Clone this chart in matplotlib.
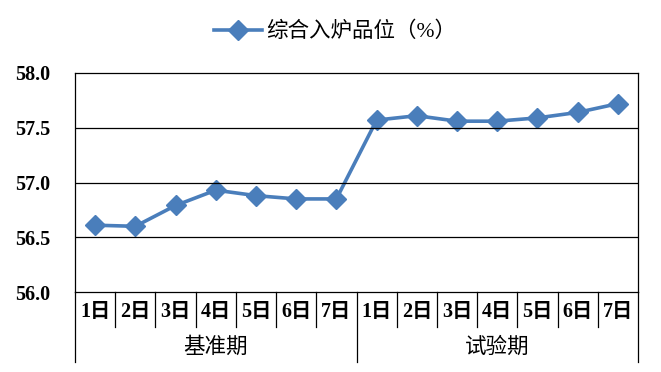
import numpy as np
import matplotlib.pyplot as plt
from matplotlib.transforms import blended_transform_factory

# Data
days = ['1日', '2日', '3日', '4日', '5日', '6日', '7日']
groups = ['基准期', '试验期']
values = [56.61, 56.60, 56.79, 56.93, 56.88, 56.85, 56.85,
          57.57, 57.61, 57.56, 57.56, 57.59, 57.64, 57.72]
yticks = [56.0, 56.5, 57.0, 57.5, 58.0]
series_name = '综合入炉品位（%）'

fonts = ['Liberation Serif', 'Noto Sans CJK SC', 'DejaVu Sans']
plt.rcParams['font.family'] = fonts

fig = plt.figure(figsize=(6.61, 3.72), dpi=100)
ax = fig.add_axes([75 / 661, 1 - 292 / 372, 563 / 661, 219 / 372])

x = np.arange(len(values))
line, = ax.plot(x, values, color='#4a7ebb', lw=2.6, marker='D', markersize=10,
                label=series_name)

ax.set_xlim(-0.5, len(values) - 0.5)
ax.set_ylim(56.0, 58.0)
ax.set_yticks(yticks)
ax.set_yticklabels([f'{v:.1f}' for v in yticks], fontsize=14.5, fontweight='bold')
ax.tick_params(axis='y', length=0, pad=18)
ax.set_xticks([])
for v in yticks[1:-1]:
    ax.axhline(v, color='black', lw=0.9)
for s in ax.spines.values():
    s.set_linewidth(0.9)

# two-level category axis
tr = blended_transform_factory(ax.transData, ax.transAxes)
n_days = len(days)
for i in range(len(values) + 1):
    xs = i - 0.5
    depth = -0.32 if i % n_days == 0 else -0.16
    ax.plot([xs, xs], [0, depth], color='black', lw=0.9, transform=tr, clip_on=False)
for i in range(len(values)):
    ax.text(i, -0.09, days[i % n_days], transform=tr, ha='center', va='center',
            fontsize=14.5, fontweight='bold', family=fonts)
for g, name in enumerate(groups):
    ax.text(g * n_days + (n_days - 1) / 2, -0.255, name, transform=tr, ha='center',
            va='center', fontsize=15.5, family=fonts)

fig.legend(handles=[line], loc='center', bbox_to_anchor=(335 / 661, 1 - 32 / 372),
           frameon=False, fontsize=15.5, handlelength=2.2, handletextpad=0.2)

fig.savefig('out.png', dpi=100)
